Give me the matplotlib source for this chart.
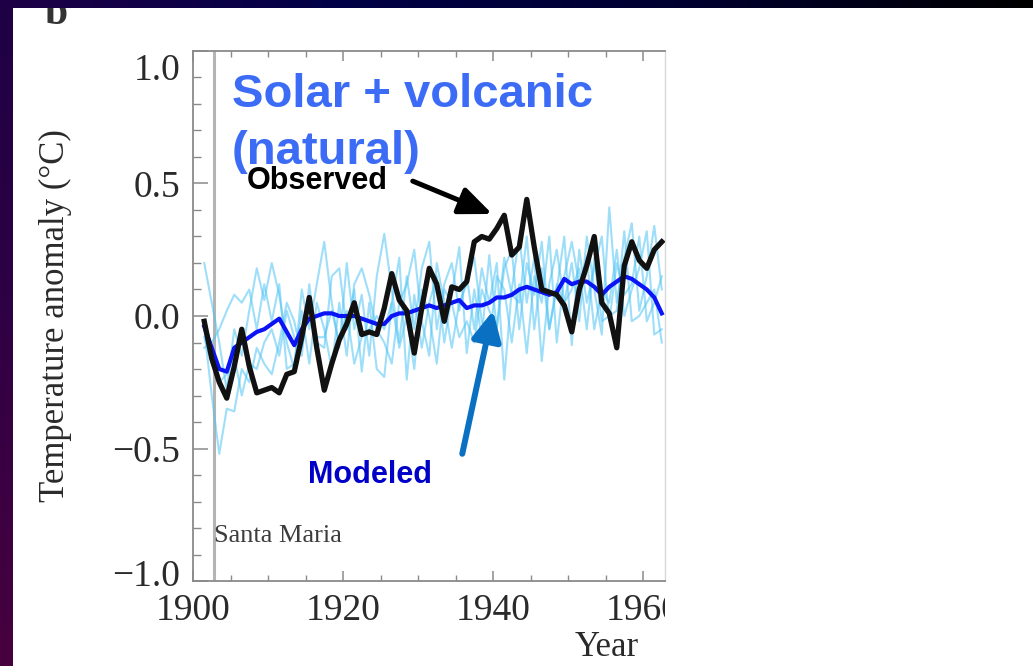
import matplotlib.pyplot as plt
import numpy as np
from matplotlib.colors import LinearSegmentedColormap
from matplotlib.ticker import MultipleLocator
from matplotlib.transforms import ScaledTranslation, Bbox, TransformedBbox

# annual anomalies (degC), 1901-1962
years = list(range(1901, 1963))

observed = [-0.02, -0.16, -0.25, -0.31, -0.19, -0.05, -0.19, -0.29, -0.28, -0.27,
            -0.29, -0.22, -0.21, -0.08, 0.07, -0.12, -0.28, -0.18, -0.09, -0.03,
            0.05, -0.07, -0.06, -0.07, 0.03, 0.16, 0.06, 0.02, -0.14, 0.03,
            0.18, 0.12, -0.02, 0.11, 0.10, 0.13, 0.28, 0.30, 0.29, 0.33,
            0.38, 0.23, 0.26, 0.44, 0.26, 0.10, 0.09, 0.08, 0.04, -0.06,
            0.10, 0.19, 0.30, 0.05, 0.01, -0.12, 0.19, 0.28, 0.21, 0.18,
            0.25, 0.28]

modeled = [-0.04, -0.12, -0.20, -0.21, -0.12, -0.10, -0.08, -0.06, -0.05, -0.03,
           -0.01, -0.06, -0.11, -0.05, -0.01, 0.00, 0.01, 0.01, 0.00, 0.00,
           0.00, -0.01, -0.02, -0.03, -0.03, 0.00, 0.01, 0.01, 0.02, 0.03,
           0.04, 0.03, 0.04, 0.05, 0.06, 0.03, 0.04, 0.04, 0.05, 0.07,
           0.07, 0.08, 0.10, 0.11, 0.10, 0.09, 0.08, 0.09, 0.14, 0.12,
           0.13, 0.13, 0.11, 0.08, 0.11, 0.13, 0.15, 0.14, 0.12, 0.10,
           0.07, 0.01]

# individual ensemble members
run_a = [0.20, 0.05, -0.10, -0.28, -0.05, -0.15, 0.02, 0.18, 0.06, 0.20,
         0.08, -0.10, -0.20, 0.10, -0.05, 0.12, 0.28, 0.05, -0.12, 0.20,
         -0.05, 0.08, -0.15, 0.15, 0.31, 0.10, -0.10, 0.15, -0.05, 0.18,
         0.28, -0.05, 0.12, 0.20, 0.02, 0.15, -0.05, 0.18, 0.05, 0.20,
         -0.24, 0.10, 0.30, 0.05, 0.22, -0.17, 0.12, 0.25, 0.05, 0.20,
         -0.02, 0.30, 0.10, -0.07, 0.41, 0.05, 0.22, 0.35, 0.02, 0.15,
         0.34, 0.10]
run_b = [-0.05, -0.30, -0.52, -0.35, -0.36, -0.20, -0.25, -0.12, -0.18, -0.22,
         -0.10, 0.05, -0.02, -0.15, 0.12, -0.10, -0.12, 0.15, 0.18, -0.05,
         0.10, -0.21, 0.05, -0.20, -0.23, 0.05, 0.22, -0.24, 0.08, -0.12,
         0.05, 0.15, -0.10, 0.08, 0.26, -0.14, 0.10, -0.08, 0.23, -0.05,
         0.18, 0.25, -0.05, 0.20, 0.08, 0.28, -0.05, 0.10, 0.30, -0.11,
         0.25, 0.05, 0.18, 0.30, -0.02, 0.20, 0.08, 0.12, 0.30, -0.02,
         0.05, 0.15]
run_c = [-0.12, -0.10, -0.05, 0.02, 0.08, 0.05, 0.10, -0.05, 0.12, -0.02,
         0.12, -0.20, -0.18, 0.02, -0.18, 0.05, -0.05, -0.20, 0.05, -0.15,
         0.12, 0.18, 0.08, -0.05, -0.10, -0.18, 0.05, 0.12, 0.25, -0.02,
         -0.15, 0.20, 0.05, -0.12, 0.05, 0.12, 0.22, -0.02, -0.10, 0.15,
         0.10, -0.10, 0.12, -0.14, 0.15, 0.05, 0.30, -0.10, 0.15, 0.28,
         0.12, 0.22, -0.05, 0.10, 0.05, 0.25, 0.00, 0.10, 0.18, 0.32,
         -0.07, -0.05]
run_d = [-0.08, -0.18, -0.25, -0.22, -0.15, -0.30, -0.18, -0.20, -0.10, -0.05,
         -0.15, 0.02, -0.08, -0.12, 0.06, -0.08, -0.08, 0.02, -0.10, 0.02,
         -0.18, -0.08, -0.05, 0.00, -0.05, 0.05, -0.12, 0.00, -0.20, 0.10,
         0.00, -0.18, 0.10, 0.05, -0.08, -0.02, -0.10, 0.10, 0.02, -0.04,
         0.22, 0.08, 0.05, 0.30, -0.05, 0.18, -0.05, 0.12, 0.05, 0.10,
         0.18, -0.05, 0.22, -0.02, 0.00, 0.02, 0.32, -0.02, 0.00, 0.05,
         0.10, -0.10]

santa_maria = 1902.8
x_ticks = [1900, 1920, 1940, 1960]
y_ticks = [-1.0, -0.5, 0.0, 0.5, 1.0]
y_labels = ['\u22121.0', '\u22120.5', '0.0', '0.5', '1.0']

W, H = 1033, 666
fig = plt.figure(figsize=(W / 100, H / 100), dpi=100, facecolor='white')
ax = fig.add_axes([193 / W, 85 / H, 472 / W, 530 / H])

x = np.array(years) + 0.5  # annual means sit mid-year
for run in (run_a, run_b, run_c, run_d):
    ax.plot(x, run, color='#4fc4f5', lw=1.5, alpha=0.55, zorder=2)
ax.plot(x, modeled, color='#0a14f5', lw=3.0, zorder=3)
ax.plot(x, observed, color='#111111', lw=3.8, zorder=4)

ax.axvline(santa_maria, color='#b4b4b4', lw=2.2, zorder=1)
ax.text(santa_maria, -0.83, 'Santa Maria', family='Liberation Serif', fontsize=19,
        color='#3c3c3c', ha='left', va='center')

ax.set_xlim(1900, 1962.93)
ax.set_ylim(-1.0, 1.0)

serif = 'Liberation Serif'
ax.set_xticks(x_ticks)
ax.set_yticks(y_ticks)
ax.set_yticklabels(y_labels)
ax.xaxis.set_minor_locator(MultipleLocator(5))
ax.yaxis.set_minor_locator(MultipleLocator(0.1))
ax.tick_params(axis='both', which='both', direction='in', color='#8a8a8a',
               labelcolor='#2a2a2a', labelsize=27)
ax.tick_params(axis='y', which='major', length=11, width=1.1, pad=9, right=False)
ax.tick_params(axis='y', which='minor', length=6, width=1.0, right=False)
ax.tick_params(axis='x', which='major', length=7, width=1.1, pad=9, top=True)
ax.tick_params(axis='x', which='minor', length=4, width=1.0, top=True)
for lbl in ax.get_xticklabels() + ax.get_yticklabels():
    lbl.set_family(serif)

for side in ('left', 'bottom', 'top'):
    ax.spines[side].set_color('#8a8a8a')
    ax.spines[side].set_linewidth(1.3)
ax.spines['right'].set_color('#d8d8d8')
ax.spines['right'].set_linewidth(1.0)

ax.set_xlabel('Year', family=serif, fontsize=25, color='#2a2a2a')
ax.xaxis.set_label_coords(0.877, -0.126)
ax.xaxis.label.set_verticalalignment('center')
ax.set_ylabel('Temperature anomaly (\u00b0C)', family=serif, fontsize=25, color='#2a2a2a')
ax.yaxis.set_label_coords(-0.292, 0.5)
ax.yaxis.label.set_verticalalignment('center')

# the end labels sit inside the axis range
fig.canvas.draw()
ylbls = ax.get_yticklabels()
ylbls[-1].set_transform(ylbls[-1].get_transform() + ScaledTranslation(0, -0.16, fig.dpi_scale_trans))
ylbls[0].set_transform(ylbls[0].get_transform() + ScaledTranslation(0, 0.08, fig.dpi_scale_trans))
clip = TransformedBbox(Bbox([[0, 0], [665 / W, 1]]), fig.transFigure)
for lbl in ax.get_xticklabels():
    lbl.set_clip_box(clip)
    lbl.set_clip_on(True)

sans = 'Liberation Sans'
ax.text(1905.2, 0.789, 'Solar + volcanic', family=sans, weight='bold', fontsize=34,
        color='#3c6cf6', va='baseline', zorder=5)
ax.text(1905.2, 0.574, '(natural)', family=sans, weight='bold', fontsize=34,
        color='#3c6cf6', va='baseline', zorder=5)
ax.text(1907.2, 0.479, 'Observed', family=sans, weight='bold', fontsize=22,
        color='black', va='baseline', zorder=6)
ax.text(1915.3, -0.63, 'Modeled', family=sans, weight='bold', fontsize=22,
        color='#0000c8', va='baseline', zorder=6)

ax.annotate('', xy=(1939.9, 0.385), xytext=(1929.3, 0.509), zorder=6,
            arrowprops=dict(arrowstyle='-|>,head_length=1.0,head_width=0.42',
                            mutation_scale=20, lw=3.6, color='black',
                            shrinkA=0, shrinkB=0))
ax.annotate('', xy=(1940.0, 0.02), xytext=(1935.9, -0.52), zorder=6,
            arrowprops=dict(arrowstyle='-|>,head_length=0.9,head_width=0.45',
                            mutation_scale=20, lw=4.3, color='#0a70c2',
                            shrinkA=0, shrinkB=0))

# panel letter, partly hidden under the slide frame
fig.text(44 / W, 1 - 24 / H, 'b', family=serif, weight='bold', fontsize=30,
         color='#333333', va='baseline', zorder=3)

# dark slide frame along the left and top edges
left_cmap = LinearSegmentedColormap.from_list('left', ['#1e0046', '#300044', '#48003e'])
top_cmap = LinearSegmentedColormap.from_list('top', ['#1e0046', '#000046', '#000030', '#000000'])
fl = fig.add_axes([0, 0, 13 / W, 1], zorder=10)
fl.imshow(np.linspace(0, 1, 256).reshape(-1, 1), cmap=left_cmap, aspect='auto')
fl.axis('off')
ft = fig.add_axes([0, 1 - 8 / H, 1, 8 / H], zorder=10)
ft.imshow(np.linspace(0, 1, 256).reshape(1, -1), cmap=top_cmap, aspect='auto')
ft.axis('off')

fig.savefig('out.png', dpi=100, facecolor='white')
